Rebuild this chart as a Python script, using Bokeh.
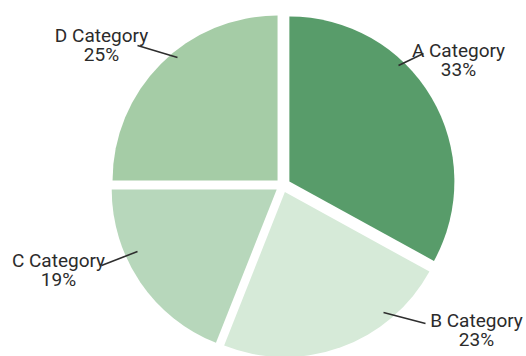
import math
from bokeh.plotting import figure
from bokeh.models import Range1d, ColumnDataSource
from bokeh.core.properties import value
from bokeh.embed import file_html
from bokeh.resources import INLINE

# ---- data ----
categories = ["A Category", "B Category", "C Category", "D Category"]
shares = [33, 23, 19, 25]
colors = ["#589c6a", "#d6ead8", "#b7d7bb", "#a5cca6"]

# ---- layout (pixel-like units, origin bottom-left) ----
W, H = 526, 356
CX, CY = 282, H - 185
R = 165
explode = [8, 7, 7, 7]
# label anchors (x, top-origin baseline y of first line)
label_pos = [(458, 50), (476, 320), (58, 260), (101, 35)]
line_gap = 19
leaders = [((398, 65), (423, 53)),
           ((383, 312), (425, 323)),
           ((101, 265), (137, 251)),
           ((137, 45), (177, 57))]

total = sum(shares)
starts, ends, xs, ys = [], [], [], []
cum = 0
for s, d in zip(shares, explode):
    a_end = 90 - cum / total * 360
    cum += s
    a_start = 90 - cum / total * 360
    mid = math.radians((a_start + a_end) / 2)
    starts.append(math.radians(a_start))
    ends.append(math.radians(a_end))
    xs.append(CX + d * math.cos(mid))
    ys.append(CY + d * math.sin(mid))

src = ColumnDataSource(dict(x=xs, y=ys, start=starts, end=ends, color=colors))

p = figure(width=W, height=H, output_backend="svg", toolbar_location=None,
           x_range=Range1d(0, W), y_range=Range1d(0, H), min_border=0)
p.axis.visible = False
p.xgrid.visible = False
p.ygrid.visible = False
p.outline_line_color = None
p.background_fill_color = "white"
p.border_fill_color = "white"

p.wedge(x="x", y="y", radius=R, start_angle="start", end_angle="end",
        fill_color="color", line_color=None, direction="anticlock", source=src)

# leader lines
p.segment(x0=[a[0] for a, b in leaders], y0=[H - a[1] for a, b in leaders],
          x1=[b[0] for a, b in leaders], y1=[H - b[1] for a, b in leaders],
          line_color="#2e2e2e", line_width=1.6)

font = value("Roboto")
lsrc = ColumnDataSource(dict(
    x=[lp[0] for lp in label_pos],
    y1=[H - lp[1] for lp in label_pos],
    y2=[H - lp[1] - line_gap for lp in label_pos],
    name=categories,
    pct=[f"{s}%" for s in shares]))
for col, yk in (("name", "y1"), ("pct", "y2")):
    p.text(x="x", y=yk, text=col, source=lsrc, text_font=font,
           text_font_size="19px", text_color="#2b2b2b",
           text_align="center", text_baseline="alphabetic")

open("out.html", "w").write(file_html(p, INLINE))
